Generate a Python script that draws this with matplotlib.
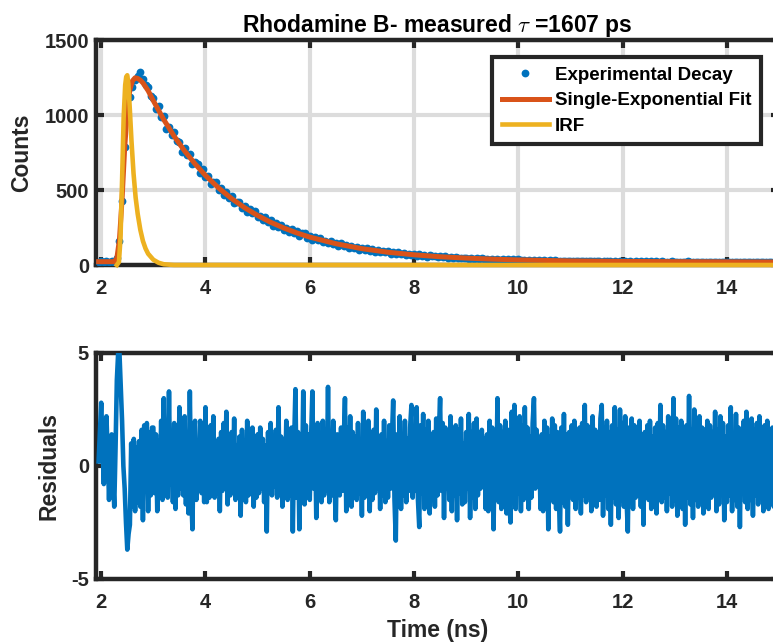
import numpy as np
import matplotlib
matplotlib.use("Agg")
import matplotlib.pyplot as plt

plt.rcParams['font.family'] = ['Liberation Sans', 'DejaVu Sans']
plt.rcParams['font.weight'] = 'bold'
plt.rcParams['axes.unicode_minus'] = False
plt.rcParams['mathtext.fontset'] = 'cm'

# ---------------- data ----------------
t_start = 1.95      # ns, first channel shown
decay_step = 0.05   # ns per point for the decay
resid_step = 0.025  # ns per point for the residuals

decay_counts = [
    22, 26, 19, 24, 21, 27, 23, 45, 160, 430, 790, 1040, 1120, 1190, 1235, 1260, 1290, 1240, 1200, 1185, 1130,
    1113, 1037, 1060, 987, 991, 910, 922, 865, 886, 825, 823, 756, 780, 733, 741, 672, 686, 674, 616, 639, 587,
    596, 542, 554, 552, 499, 511, 464, 488, 450, 463, 412, 423, 421, 379, 392, 355, 374, 346, 358, 318,
    328, 297, 318, 288, 297, 263, 278, 254, 268, 235, 246, 223, 240, 216, 224, 196, 211, 211, 182, 192,
    169, 186, 165, 179, 153, 163, 144, 161, 142, 150, 129, 145, 125, 135, 116, 130, 115, 123, 103, 114,
    100, 112, 96, 106, 88, 98, 86, 96, 84, 91, 76, 86, 75, 84, 71, 78, 66, 76, 66, 73,
    62, 71, 61, 66, 56, 65, 57, 61, 52, 58, 51, 58, 48, 54, 48, 53, 44, 50, 45, 50,
    42, 48, 41, 46, 39, 45, 39, 43, 36, 42, 36, 41, 34, 39, 34, 39, 32, 37, 32, 37,
    31, 35, 30, 34, 29, 33, 30, 34, 28, 32, 29, 31, 27, 32, 28, 30, 26, 30, 27, 29,
    29, 25, 28, 26, 28, 24, 27, 25, 28, 24, 27, 23, 26, 24, 27, 23, 26, 22, 26, 23,
    26, 22, 25, 23, 26, 22, 25, 21, 24, 22, 25, 21, 24, 22, 25, 21, 23, 21, 24, 21,
    23, 20, 23, 21, 24, 20, 22, 21, 23, 20, 22, 21, 23, 20, 23, 21, 22, 20, 23, 21,
    22, 20, 23, 21, 22, 20, 22, 21, 23, 20, 22, 20, 22, 21, 22, 20, 22, 20, 22, 21,
]

residuals = [
    # 1.950 - 2.975
    0.2, 1.5, 2.8, 1.0, -0.8, 1.5, 2.2, 0.5, -1.5, 0.6, 1.4, -0.5, -1.8, 0.8, 3.8, 5.0, 5.0, 3.5, 2.0, 0.0,
    -1.0, -2.5, -3.7, -3.0, -2.6, 1.0, -1.8, 1.2, -2.0, 0.8, -1.6, 1.1, -1.8, 1.6, -2.4, 1.8, -1.1, 1.9, -2.0, 1.5,
    -1.3, 1.7,
    # 3.0 - 3.975
    1.7, -1.2, 1.4, -2.0, 1.1, -0.9, 2.0, -1.5, 3.0, -1.1, 1.6, -1.4, 3.3, -0.8, 1.2, -1.6, 1.9, -1.9, 1.0, -1.3,
    2.6, -1.0, 1.5, -1.3, 2.2, -1.7, 0.9, -2.1, 3.3, -1.2, -2.8, 1.4, 2.0, -1.5, 1.1, -1.0, 2.0, -1.2, 1.3, -1.6,
    # 4.0 - 4.975
    2.6, -1.6, 1.0, -1.4, 1.8, -0.9, 2.2, -1.4, 0.8, -1.2, 1.2, -2.0, 1.5, -1.1, 1.9, -0.8, 2.4, -1.7, 1.1, -1.3,
    1.5, -0.8, 2.1, -1.5, 0.9, -1.2, 1.3, -2.2, 1.6, -1.0, 1.1, -1.6, 2.0, -1.3, 1.4, -0.9, 1.7, -1.8, 1.0, -1.4,
    # 5.0 - 5.975
    1.4, -1.2, 1.7, -1.0, 1.2, -1.6, 0.9, -2.9, 1.5, -1.1, 1.9, -1.3, 1.0, -0.9, 1.6, -1.4, 2.6, -1.2, 1.3, -1.8,
    1.1, -1.0, 2.0, -1.5, 1.2, -1.3, 1.7, -2.9, 1.0, 3.4, -1.4, 1.5, -2.8, 1.2, -1.0, 3.3, -1.7, 1.8, -1.2, 1.4,
    # 6.0 - 6.975
    -1.5, 1.2, 3.3, -1.0, 1.6, -2.3, 1.9, -1.2, 1.1, -1.6, 2.0, -1.3, 1.4, -1.1, 3.5, -1.6, 1.2, -1.3, 2.0, -0.9,
    -2.4, 1.4, 1.0, -1.3, 1.7, -1.1, 0.9, 3.0, -2.0, 1.7, -1.1, 2.2, -1.8, 1.5, -1.0, 1.3, -1.5, 1.9, -1.2, 1.1,
    # 7.0 - 7.975
    -2.2, 2.4, -1.4, 1.8, -1.1, 2.0, -2.0, 1.0, -1.5, 1.6, -1.2, 2.5, -1.0, 1.3, -1.9, 1.4, -1.3, 2.0, -1.6, 1.1,
    -1.4, 1.8, -1.0, 1.2, 2.9, -1.5, -3.3, 1.4, -1.2, 2.2, -1.9, 1.4, -1.3, 2.0, -1.6, 1.2, -1.1, 1.7, 2.7, -1.4,
    # 8.0 - 8.975
    1.3, -1.1, 2.6, -1.5, -2.7, 1.8, -1.2, 2.3, -1.9, 1.6, -1.4, 2.0, -2.1, 1.2, -1.0, 1.5, -1.8, 2.1, -1.3, 1.4,
    3.0, -1.1, 1.9, -2.3, 1.7, -1.0, 1.3, -1.5, 2.2, -2.0, 1.3, -1.3, 1.8, -2.4, 1.6, -1.2, 2.1, -1.7, 1.0, -1.6,
    # 9.0 - 9.975
    1.5, -1.0, 2.3, -2.3, 1.5, -1.4, 1.9, -1.9, 2.1, -1.3, 1.2, -1.0, 1.6, -0.9, 1.2, -1.9, 1.4, -2.0, 2.0, -1.5,
    1.7, -2.8, 1.3, -1.4, 3.0, -1.6, 1.8, -1.9, 1.5, -1.2, 2.0, -2.1, 1.6, -1.4, -2.5, 2.4, -1.3, 2.7, -1.9, 1.6,
    # 10.0 - 10.975
    -1.2, 2.2, -2.0, 1.8, -1.5, 2.6, -1.3, 1.7, -1.9, 1.3, -1.4, 1.9, 3.0, -1.0, 1.6, -0.9, 1.2, -1.9, 1.4, -2.0,
    2.0, -1.5, 1.7, -2.8, 1.3, -1.4, 2.1, -1.6, 1.8, -1.9, 1.5, -1.2, -2.9, 1.7, -1.6, 2.3, -1.8, 1.4, -2.6, 1.5,
    # 11.0 - 11.975
    -1.2, 1.8, -1.5, 2.0, -1.9, 1.3, -1.4, 1.7, -2.1, 1.9, -1.3, 2.7, -1.6, 1.8, -1.4, 1.5, -2.0, 2.2, -1.2, 1.6,
    -1.8, 1.4, -1.5, 2.1, 2.7, -2.2, 1.7, -1.3, 2.0, -1.9, 1.5, -2.6, 1.8, -1.4, 2.6, -1.7, 1.6, -2.3, 2.5, -1.5,
    # 12.0 - 12.975
    1.9, -1.8, 2.2, -1.4, -2.9, 1.7, -1.6, 2.1, -1.9, 1.8, -1.4, 1.5, -1.3, 2.0, -1.8, 1.4, -2.6, 1.5, -1.2, 1.8,
    -1.5, 2.0, -1.9, 1.3, -1.4, 1.7, -2.1, 1.9, -1.3, 2.7, -1.6, 1.8, -1.4, 1.5, -2.0, 2.2, -1.2, 1.6, -1.8, 3.0,
    # 13.0 - 13.975
    -1.5, 2.1, -2.2, 1.7, -1.3, 2.0, -1.9, 1.5, -2.6, 1.8, -1.4, 3.1, -1.7, 1.6, -2.3, 2.5, -1.5, 1.9, -1.8, 2.2,
    -1.4, 1.7, -2.1, 1.6, -1.6, 2.0, -1.9, 1.8, -1.4, 1.5, -1.2, 2.4, -2.0, 1.6, -1.7, 2.2, -1.1, 1.9, -2.4, 1.3,
    # 14.0 - 15.0
    -1.6, 1.8, -1.3, 2.6, -2.0, 1.4, -1.5, 2.3, -1.8, 1.7, -2.7, 1.5, -1.2, 2.0, -1.6, 2.4, -1.9, 1.3, -1.5, 2.1,
    -2.2, 1.6, -1.3, 1.9, -1.7, 2.2, -1.4, 1.5, -2.0, 1.8, -1.5, 2.0, -1.9, 1.4, -1.2, 1.7, -1.8, 2.1, -1.4, 1.6,
    -1.0,
]

fit_t = [1.95, 2.25, 2.30, 2.35, 2.40, 2.45, 2.50, 2.55, 2.60, 2.65, 2.70, 2.75, 2.80, 2.90, 3.0,
         3.2, 3.4, 3.6, 3.8, 4.0, 4.25, 4.5, 4.75, 5.0, 5.25, 5.5, 5.75, 6.0, 6.5, 7.0,
         7.5, 8.0, 8.5, 9.0, 9.5, 10.0, 11.0, 12.0, 13.0, 14.0, 15.0]
fit_counts = [22, 22, 45, 170, 440, 780, 1030, 1170, 1228, 1248, 1244, 1232, 1214, 1162, 1095,
              969, 858, 760, 674, 597, 514, 443, 382, 330, 285, 247, 214, 186, 142, 109,
              85, 68, 55, 46, 39, 34, 27, 24, 22, 21, 20]

irf_t = [2.30, 2.34, 2.37, 2.40, 2.43, 2.46, 2.48, 2.50, 2.52, 2.55, 2.58, 2.62, 2.66, 2.70,
         2.75, 2.80, 2.85, 2.90, 3.0, 3.1, 3.2, 3.4, 15.0]
irf_counts = [0, 20, 180, 560, 980, 1200, 1255, 1265, 1210, 1030, 830, 610, 450, 340,
              235, 160, 110, 75, 35, 15, 5, 0, 0]

x_ticks = [2, 4, 6, 8, 10, 12, 14]
counts_ticks = [0, 500, 1000, 1500]
resid_ticks = [-5, 0, 5]

# ---------------- style ----------------
BLUE = '#0072BD'
ORANGE = '#D95319'
YELLOW = '#EDB120'
DARK = '#262626'

t_data = t_start + decay_step * np.arange(len(decay_counts))
t_res = t_start + resid_step * np.arange(len(residuals))

fig = plt.figure(figsize=(7.73, 6.44), dpi=100)
W, H = 773.0, 644.0
left_px, right_px = 96, 779
ax1 = fig.add_axes([left_px / W, 1 - 265 / H, (right_px - left_px) / W, 225 / H])
ax2 = fig.add_axes([left_px / W, 1 - 579 / H, (right_px - left_px) / W, 226 / H])

def style_axes(ax):
    for sp in ax.spines.values():
        sp.set_linewidth(3.2)
        sp.set_color(DARK)
        sp.set_zorder(2.5)
    ax.tick_params(direction='in', length=6, width=3.0, colors=DARK,
                   labelsize=14.5, top=True, right=True)
    ax.tick_params(axis='x', pad=10)
    ax.tick_params(axis='y', pad=5)
    for lab in ax.get_xticklabels() + ax.get_yticklabels():
        lab.set_fontweight('bold')

# top panel
ax1.plot(t_data, decay_counts, 'o', color=BLUE, markersize=5.6, markeredgewidth=0,
         label='Experimental Decay', zorder=3)
ax1.plot(fit_t, fit_counts, '-', color=ORANGE, linewidth=3.6,
         label='Single-Exponential Fit', zorder=4, clip_on=False)
ax1.plot(irf_t, irf_counts, '-', color=YELLOW, linewidth=3.3,
         label='IRF', zorder=5, clip_on=False)
ax1.set_xlim(1.9, 15.0)
ax1.set_ylim(0, 1500)
ax1.set_xticks(x_ticks)
ax1.set_yticks(counts_ticks)
ax1.grid(True, color='#dcdcdc', linewidth=3.0, zorder=0)
ax1.set_axisbelow(True)
style_axes(ax1)
ax1.set_ylabel('Counts', fontsize=16.5, fontweight='bold', color=DARK, labelpad=8)
ax1.set_title(r'Rhodamine B- measured $\tau$ =1607 ps', fontsize=16.5,
              fontweight='bold', color='black', pad=6)

leg = ax1.legend(loc='upper right', bbox_to_anchor=(761 / W, 1 - 57 / H),
                 bbox_transform=fig.transFigure, fontsize=13.5, frameon=True,
                 fancybox=False, framealpha=1, edgecolor=DARK, numpoints=1,
                 handlelength=2.5, handletextpad=0.35, labelspacing=0.45,
                 borderpad=0.5, borderaxespad=0, markerscale=1.0)
leg.get_frame().set_linewidth(3.0)
for txt in leg.get_texts():
    txt.set_fontweight('bold')
    txt.set_color('black')

# bottom panel
ax2.plot(t_res, residuals, '-', color=BLUE, linewidth=3.3, zorder=3)
ax2.set_xlim(1.9, 15.0)
ax2.set_ylim(-5, 5)
ax2.set_xticks(x_ticks)
ax2.set_yticks(resid_ticks)
style_axes(ax2)
ax2.set_ylabel('Residuals', fontsize=16.5, fontweight='bold', color=DARK, labelpad=8)
ax2.set_xlabel('Time (ns)', fontsize=16.5, fontweight='bold', color=DARK, labelpad=5)

fig.savefig('out.png', dpi=100)
